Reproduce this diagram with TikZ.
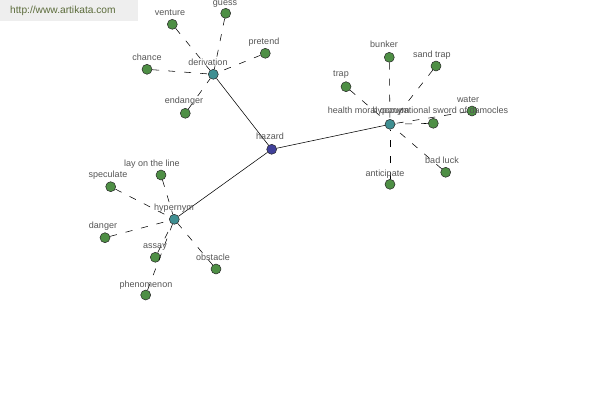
\documentclass[tikz,border=0pt]{standalone}
\usepackage{fontspec}
\setmainfont{Liberation Sans}
\definecolor{leafg}{HTML}{4E8F45}
\definecolor{midt}{HTML}{3F8F92}
\definecolor{rootb}{HTML}{40409A}
\definecolor{labgray}{HTML}{555555}
\definecolor{urlbg}{HTML}{EEEEEE}
\definecolor{urltxt}{HTML}{5B6B3A}
\begin{document}
\begin{tikzpicture}[x=1pt,y=-1pt,
  lab/.style={font=\fontsize{9}{9}\selectfont, text=labgray, inner sep=0pt, text height=6.4pt, text depth=1.8pt},
  dot/.style={circle, draw=black!85, line width=0.5pt, minimum size=10pt, inner sep=0pt},
  leaf/.style={dot, fill=leafg},
  mid/.style={dot, fill=midt},
  root/.style={dot, fill=rootb},
  link/.style={line width=0.55pt, black},
  dlink/.style={line width=0.55pt, black, dash pattern=on 7pt off 9pt}]
\useasboundingbox (0,0) rectangle (600,400);
\fill[urlbg] (0,0) rectangle (138,21);
\node[anchor=west, inner sep=0pt, text=urltxt, font=\fontsize{10.2}{10}\selectfont] (url) at (10,11) {http://www.artikata.com};

% centers
\node[root] (hazard) at (271.7,149.3) {};
\node[mid] (derivation) at (213.3,74.3) {};
\node[mid] (hyponym) at (390,124.3) {};
\node[mid] (hypernym) at (174.3,219.3) {};

% derivation leaves
\node[leaf] (guess) at (225.7,13.3) {};
\node[leaf] (venture) at (172.3,24.3) {};
\node[leaf] (pretend) at (265.3,53.3) {};
\node[leaf] (chance) at (147,69.3) {};
\node[leaf] (endanger) at (185.3,113.3) {};

% hyponym leaves
\node[leaf] (bunker) at (389.3,57.3) {};
\node[leaf] (sandtrap) at (436,66) {};
\node[leaf] (trap) at (346,86.7) {};
\node[leaf] (water) at (472,111) {};
\node[leaf] (sword) at (433.3,123.3) {};
\node[leaf] (badluck) at (445.7,172.3) {};
\node[leaf] (anticipate) at (390,184.3) {};

% hypernym leaves
\node[leaf] (layon) at (161,175) {};
\node[leaf] (speculate) at (110.7,186.7) {};
\node[leaf] (danger) at (105,237.7) {};
\node[leaf] (assay) at (155.3,257.3) {};
\node[leaf] (obstacle) at (216,269) {};
\node[leaf] (phenomenon) at (145.7,295) {};

% connectors
\draw[link] (hazard) -- (derivation);
\draw[link] (hazard) -- (hyponym);
\draw[link] (hazard) -- (hypernym);
\foreach \l in {guess,venture,pretend,chance,endanger}
  \draw[dlink] (\l) -- (derivation);
\foreach \l in {bunker,sandtrap,trap,water,sword,badluck,anticipate}
  \draw[dlink] (\l) -- (hyponym);
\foreach \l in {layon,speculate,danger,assay,obstacle,phenomenon}
  \draw[dlink] (\l) -- (hypernym);

% labels
\node[lab] (lhazard) at (270,137.5) {hazard};
\node[lab] (lderivation) at (208,62.7) {derivation};
\node[lab] (lguess) at (225,3.2) {guess};
\node[lab] (lventure) at (170,13.3) {venture};
\node[lab] (lpretend) at (264,42.3) {pretend};
\node[lab] (lchance) at (147,58) {chance};
\node[lab] (lendanger) at (184,101.5) {endanger};
\node[lab] (lbunker) at (384,45.5) {bunker};
\node[lab] (lsandtrap) at (432,55) {sand trap};
\node[lab] (ltrap) at (341,74.5) {trap};
\node[lab] (lwater) at (468,100) {water};
\node[lab] (lhealth) at (418,111.5) {health moral occupational sword of damocles};
\node[lab] (lhyponym) at (391,111.5) {hyponym};
\node[lab] (lbadluck) at (442,161) {bad luck};
\node[lab] (lanticipate) at (385,174) {anticipate};
\node[lab] (llayon) at (152,164) {lay on the line};
\node[lab] (lspeculate) at (108,175) {speculate};
\node[lab] (lhypernym) at (174,208.5) {hypernym};
\node[lab] (ldanger) at (103,226) {danger};
\node[lab] (lassay) at (155,246.5) {assay};
\node[lab] (lobstacle) at (213,258) {obstacle};
\node[lab] (lphenomenon) at (146,285) {phenomenon};
\end{tikzpicture}
\end{document}
